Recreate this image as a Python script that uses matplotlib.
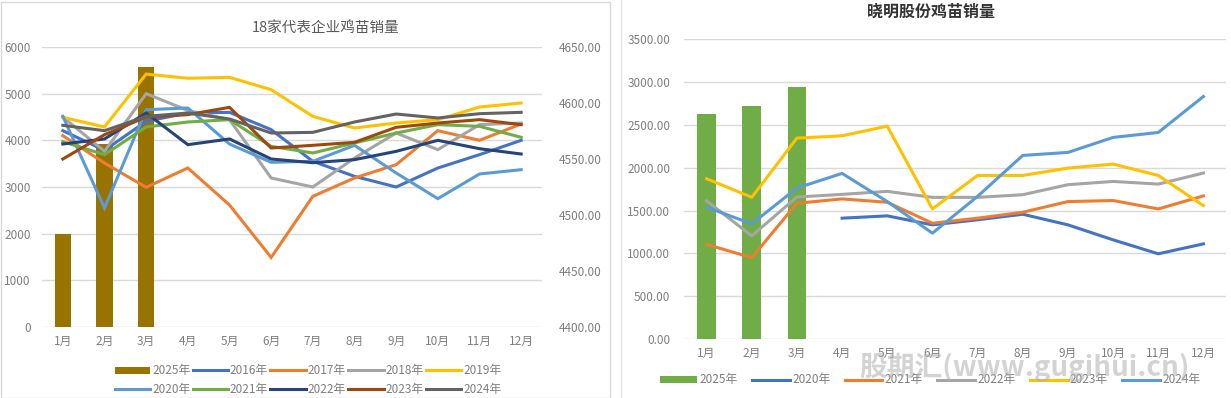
import matplotlib
matplotlib.use("Agg")
import matplotlib.pyplot as plt
from matplotlib.patches import Rectangle
from matplotlib.ticker import FormatStrFormatter

plt.rcParams['font.family'] = ['Noto Sans CJK SC', 'DejaVu Sans']

months = ["1月", "2月", "3月", "4月", "5月", "6月", "7月", "8月", "9月", "10月", "11月", "12月"]

# ---- Left chart: 18家代表企业鸡苗销量 ----
left_bar_label = "2025年"
left_bar = [2000, 3920, 5570]
left_years = ["2016年", "2017年", "2018年", "2019年", "2020年", "2021年", "2022年", "2023年", "2024年"]
s2016 = [4207, 3786, 4407, 4586, 4600, 4229, 3550, 3229, 3000, 3407, 3693, 4000]
s2017 = [4100, 3514, 2993, 3407, 2614, 1490, 2800, 3193, 3479, 4207, 4000, 4350]
s2018 = [4500, 3764, 5000, 4640, 4443, 3193, 3000, 3621, 4157, 3800, 4336, 4371]
s2019 = [4493, 4286, 5420, 5330, 5350, 5086, 4514, 4264, 4371, 4443, 4714, 4800]
s2020 = [4514, 2550, 4657, 4693, 3921, 3529, 3550, 3893, 3300, 2750, 3279, 3371]
s2021 = [3971, 3693, 4286, 4393, 4443, 3871, 3729, 3943, 4157, 4336, 4300, 4064]
s2022 = [3921, 4029, 4586, 3907, 4029, 3600, 3521, 3586, 3764, 4000, 3821, 3707]
s2023 = [3600, 4121, 4500, 4550, 4707, 3836, 3893, 3957, 4279, 4371, 4443, 4336]
s2024 = [4321, 4207, 4514, 4586, 4457, 4157, 4171, 4393, 4564, 4479, 4571, 4600]
left_series = [s2016, s2017, s2018, s2019, s2020, s2021, s2022, s2023, s2024]
left_yticks = [0, 1000, 2000, 3000, 4000, 5000, 6000]
left_y2ticks = [4400, 4450, 4500, 4550, 4600, 4650]

# ---- Right chart: 晓明股份鸡苗销量 ----
right_bar_label = "2025年"
right_bar = [2626, 2723, 2940]
right_years = ["2020年", "2021年", "2022年", "2023年", "2024年"]
r2020 = [None, None, None, 1411, 1438, 1333, 1392, 1457, 1333, 1158, 995, 1111]
r2021 = [1105, 950, 1585, 1636, 1597, 1352, 1411, 1480, 1605, 1617, 1519, 1671]
r2022 = [1613, 1205, 1658, 1689, 1724, 1654, 1654, 1685, 1802, 1840, 1809, 1938]
r2023 = [1872, 1655, 2346, 2373, 2486, 1519, 1910, 1910, 1996, 2043, 1910, 1558]
r2024 = [1539, 1345, 1763, 1934, 1605, 1236, 1666, 2144, 2179, 2354, 2412, 2832]
right_series = [r2020, r2021, r2022, r2023, r2024]
right_yticks = [0, 500, 1000, 1500, 2000, 2500, 3000, 3500]

left_colors = ["#4472C4", "#ED7D31", "#A5A5A5", "#FFC000", "#5B9BD5",
               "#70AD47", "#264478", "#9E480E", "#636363"]
right_colors = ["#4472C4", "#ED7D31", "#A5A5A5", "#FFC000", "#5B9BD5"]

W, H = 1231, 398
fig = plt.figure(figsize=(W / 100, H / 100), dpi=100)
fig.patch.set_facecolor("white")

# panel borders
fig.add_artist(Rectangle((0.5 / W, 0.5 / H), 609 / W, 396 / H, transform=fig.transFigure,
                         fill=False, edgecolor="#D9D9D9", lw=1))
fig.add_artist(plt.Line2D([621 / W, 621 / W], [0, 1], transform=fig.transFigure,
                          color="#E3E3E3", lw=1))

tick_color = "#7F7F7F"
grid_color = "#D9D9D9"


def style_axes(ax):
    for s in ax.spines.values():
        s.set_visible(False)
    ax.tick_params(axis="both", length=0, colors=tick_color, labelsize=8.5)
    ax.yaxis.grid(True, color=grid_color, lw=1)
    ax.set_axisbelow(True)


# ---------- Left ----------
x = list(range(len(months)))
ax1 = fig.add_axes([42 / W, (H - 327) / H, 500 / W, 280 / H])
style_axes(ax1)
bars1 = ax1.bar(x[:len(left_bar)], left_bar, width=0.39, color="#997300", zorder=2,
                label=left_bar_label)
lines1 = []
for ser, lab, col in zip(left_series, left_years, left_colors):
    ln, = ax1.plot(x, ser, color=col, lw=2.2, label=lab, zorder=3, solid_joinstyle="miter")
    lines1.append(ln)
ax1.set_xlim(-0.5, 11.5)
ax1.set_ylim(0, 6000)
ax1.set_yticks(left_yticks)
ax1.set_xticks(x)
ax1.set_xticklabels(months)
ax1.tick_params(axis="y", pad=8)
ax1.tick_params(axis="x", pad=6)

ax1b = ax1.twinx()
for s in ax1b.spines.values():
    s.set_visible(False)
ax1b.set_ylim(4400, 4650)
ax1b.set_yticks(left_y2ticks)
ax1b.yaxis.set_major_formatter(FormatStrFormatter("%.2f"))
ax1b.tick_params(axis="y", length=0, colors=tick_color, labelsize=8.5, pad=12)

fig.text(326 / W, 1 - 28 / H, "18家代表企业鸡苗销量", ha="center", va="center",
         fontsize=10.5, color="#595959")

hs = [bars1] + lines1
ls = [left_bar_label] + left_years
order = [0, 5, 1, 6, 2, 7, 3, 8, 4, 9]
fig.legend([hs[i] for i in order], [ls[i] for i in order], ncol=5,
           loc="center", bbox_to_anchor=(308 / W, 1 - 380 / H), frameon=False,
           fontsize=8.5, labelcolor=tick_color, handlelength=3.0, handleheight=0.55,
           handletextpad=0.15, columnspacing=0.2, labelspacing=0.45, borderpad=0)

# ---------- Right ----------
ax2 = fig.add_axes([684 / W, (H - 339) / H, 542 / W, 299.7 / H])
style_axes(ax2)
bars2 = ax2.bar(x[:len(right_bar)], right_bar, width=0.41, color="#70AD47", zorder=2,
                label=right_bar_label)
lines2 = []
for ser, lab, col in zip(right_series, right_years, right_colors):
    xs = [i for i, v in zip(x, ser) if v is not None]
    vs = [v for v in ser if v is not None]
    ln, = ax2.plot(xs, vs, color=col, lw=2.2, label=lab, zorder=3)
    lines2.append(ln)
ax2.set_xlim(-0.5, 11.5)
ax2.set_ylim(0, 3500)
ax2.set_yticks(right_yticks)
ax2.yaxis.set_major_formatter(FormatStrFormatter("%.2f"))
ax2.set_xticks(x)
ax2.set_xticklabels(months)
ax2.tick_params(axis="y", pad=10)
ax2.tick_params(axis="x", pad=6)

fig.text(931 / W, 1 - 12 / H, "晓明股份鸡苗销量", ha="center", va="center",
         fontsize=11.5, color="#333333", fontweight="bold")

fig.legend([bars2] + lines2, [right_bar_label] + right_years, ncol=6,
           loc="center", bbox_to_anchor=(930 / W, 1 - 380 / H), frameon=False,
           fontsize=8.5, labelcolor=tick_color, handlelength=3.2, handleheight=0.55,
           handletextpad=0.2, columnspacing=1.2, borderpad=0)

# watermark
fig.text(1024 / W, 1 - 367 / H, "股期汇(www.gugihui.cn)", ha="center", va="center",
         fontsize=20, color="#B0B0B0", alpha=0.55, fontweight="bold", zorder=10)

fig.savefig("out.png", dpi=100, facecolor="white")
